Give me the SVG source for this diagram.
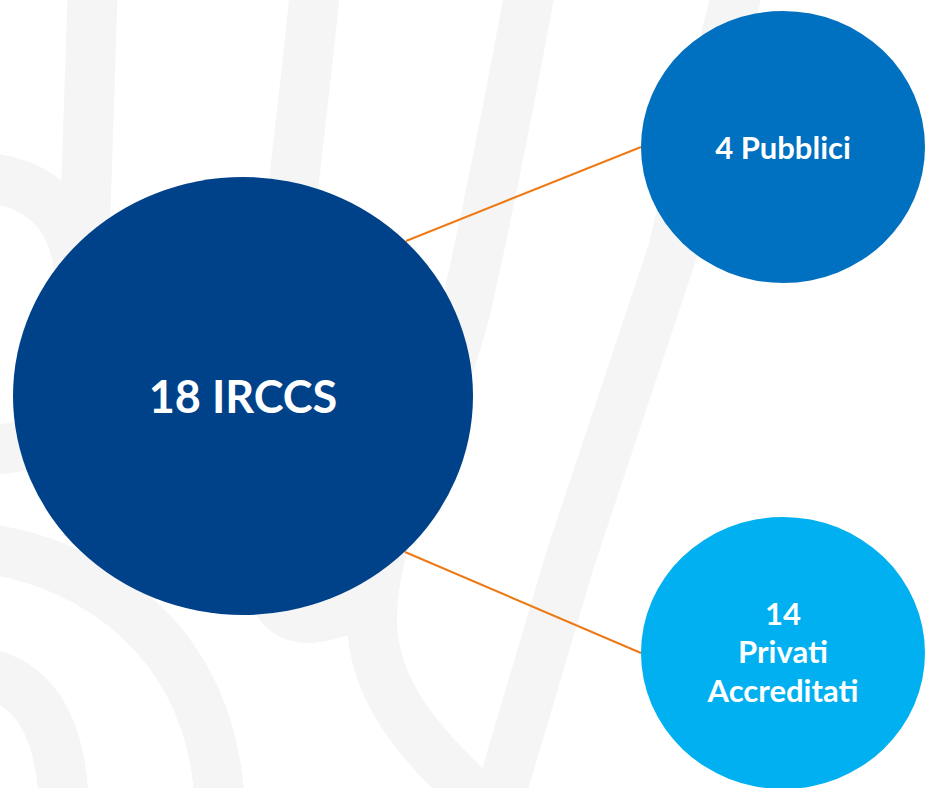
<svg xmlns="http://www.w3.org/2000/svg" width="925" height="788" viewBox="0 0 925 788">
<style>
.bg{fill:none;stroke:#F5F5F5;stroke-width:50;stroke-linecap:round;stroke-linejoin:round}
.conn{stroke:#EE7A16;stroke-width:2;fill:none}
.lbl{font-family:Lato,"Liberation Sans",sans-serif;font-weight:700;fill:#FFFFFF;text-anchor:middle}
</style>
<rect width="925" height="788" fill="#FFFFFF"/>
<g id="background">
<path class="bg" d="M93 -20 L82 320"/>
<path class="bg" stroke-width="44" d="M-30 177 C30 177 76 205 80 280"/>
<path class="bg" d="M-30 450 C20 452 60 440 80 400"/>
<path class="bg" d="M316 -20 C300 150 268 350 268 560 Q268 618 310 618 Q350 614 372 590"/>
<path class="bg" d="M532 -20 C510 100 490 200 468 300 C440 420 372 520 372 620 C372 690 420 745 480 800"/>
<path class="bg" d="M740 -20 L673 250 L570 560 L496 810"/>
<path class="bg" stroke-width="46" d="M-20 548 C90 560 215 640 220 810"/>
<path class="bg" d="M-20 672 C30 680 62 720 64 810"/>
</g>
<g id="connectors">
<line class="conn" x1="406" y1="241" x2="641" y2="147"/>
<line class="conn" x1="405" y1="552" x2="641" y2="653"/>
</g>
<g id="node-irccs">
<ellipse cx="243" cy="396" rx="230" ry="219" fill="#00428A"/>
<text class="lbl" x="243" y="413" font-size="45">18 IRCCS</text>
</g>
<g id="node-pubblici">
<ellipse cx="783" cy="147" rx="142" ry="136" fill="#0070C0"/>
<text class="lbl" x="783" y="159" font-size="31">4 Pubblici</text>
</g>
<g id="node-privati">
<ellipse cx="783" cy="653" rx="142" ry="136" fill="#00B0F0"/>
<text class="lbl" font-size="31"><tspan x="783" y="625">14</tspan><tspan x="783" y="663">Privati</tspan><tspan x="783" y="702">Accreditati</tspan></text>
</g>
</svg>
